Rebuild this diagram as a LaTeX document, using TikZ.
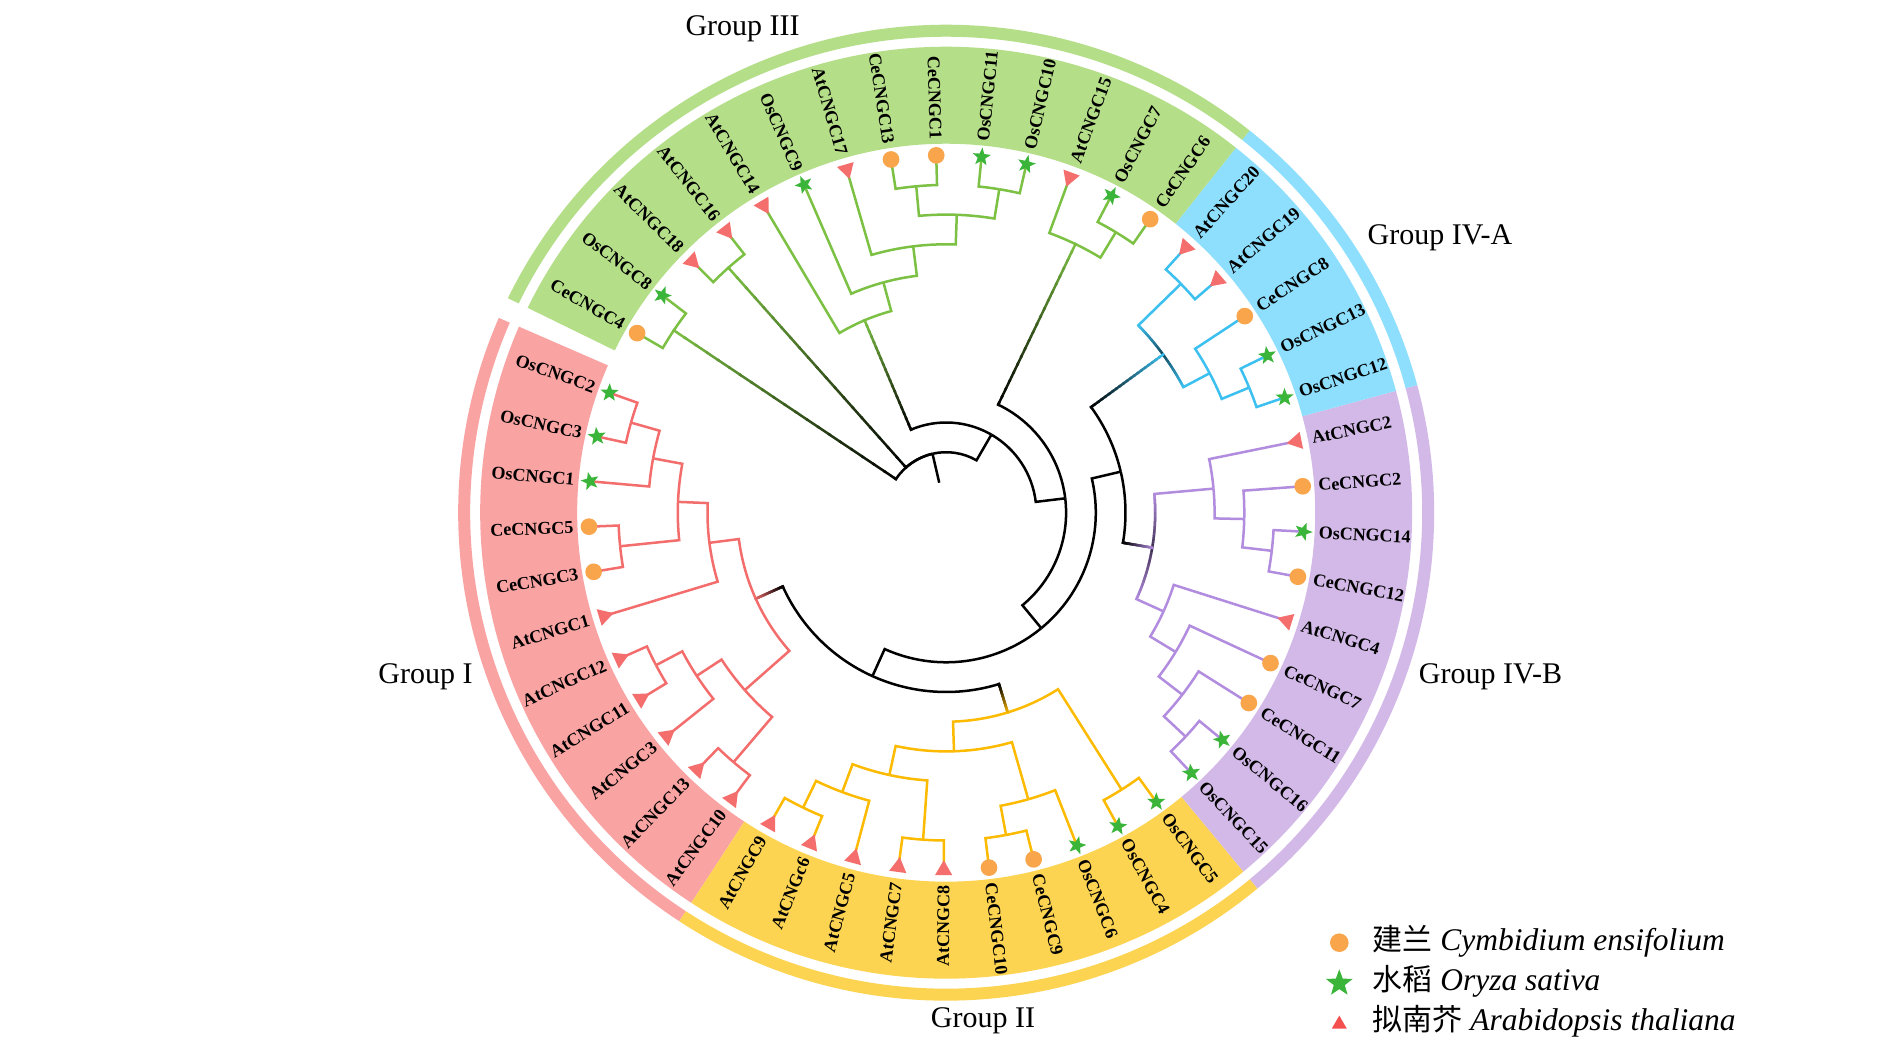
\documentclass[tikz,border=0pt]{standalone}
\usepackage{fontspec}
\setmainfont{Liberation Serif}
\newfontfamily\cjkfont{Noto Sans CJK SC}
\usetikzlibrary{shapes.geometric}
\definecolor{bandI}{RGB}{250,163,163}
\definecolor{bandII}{RGB}{253,212,82}
\definecolor{bandIII}{RGB}{181,222,136}
\definecolor{bandIVA}{RGB}{142,223,253}
\definecolor{bandIVB}{RGB}{211,185,232}
\definecolor{lineI}{RGB}{243,109,109}
\definecolor{lineII}{RGB}{252,186,0}
\definecolor{lineIII}{RGB}{124,193,67}
\definecolor{lineIVA}{RGB}{60,192,240}
\definecolor{lineIVB}{RGB}{178,140,222}
\definecolor{cecol}{RGB}{249,165,75}
\definecolor{oscol}{RGB}{58,181,58}
\definecolor{atcol}{RGB}{244,110,110}
\definecolor{atleg}{RGB}{245,80,80}

\newcommand\phyAng[1]{160.4+7.28*(#1)}
% edge: color, child idx, child level, parent idx, parent level
\newcommand\phyEdge[5]{%
 \pgfmathsetmacro\qAc{\phyAng{#2}}%
 \pgfmathsetmacro\qAp{\phyAng{#4}}%
 \pgfmathsetlengthmacro\qRc{(357.5-29.7*(#3))*1pt}%
 \pgfmathsetlengthmacro\qRp{(357.5-29.7*(#5))*1pt}%
 \draw[br,#1] (\qAc:\qRc) -- (\qAc:\qRp) arc[start angle=\qAc, end angle=\qAp, radius=\qRp];%
}
\newcommand\phyGrad[5]{%
 \pgfmathsetmacro\qAc{\phyAng{#2}}%
 \pgfmathsetmacro\qAp{\phyAng{#4}}%
 \pgfmathsetmacro\qRc{357.5-29.7*(#3)}%
 \pgfmathsetmacro\qRp{357.5-29.7*(#5)}%
 \pgfmathsetlengthmacro\qRx{(\qRp+3)*1pt}%
 \pgfmathsetlengthmacro\qRl{\qRp*1pt}%
 \draw[br,black] (\qAc:\qRx) -- (\qAc:\qRl) arc[start angle=\qAc, end angle=\qAp, radius=\qRl];%
 \foreach \k in {0,...,19}{%
  \pgfmathsetlengthmacro\qa{(\qRc+(\qRp-\qRc)*\k/20)*1pt}%
  \pgfmathsetlengthmacro\qb{(\qRc+(\qRp-\qRc)*(\k+1)/20)*1pt}%
  \pgfmathtruncatemacro\qp{100*(\k+0.5)/20}%
  \draw[line width=2.5pt,line cap=rect,black!\qp!#1] (\qAc:\qa) -- (\qAc:\qb);%
 }%
}
% arc gradient: color, node idx, level, end idx (dark at node, colour at end)
\newcommand\phyArcGrad[4]{%
 \pgfmathsetmacro\qAc{\phyAng{#2}}%
 \pgfmathsetmacro\qAe{\phyAng{#4}}%
 \pgfmathsetlengthmacro\qRl{(357.5-29.7*(#3))*1pt}%
 \foreach \k in {0,...,11}{%
  \pgfmathsetmacro\qa{\qAc+(\qAe-\qAc)*\k/12}%
  \pgfmathsetmacro\qb{\qAc+(\qAe-\qAc)*(\k+1)/12}%
  \pgfmathtruncatemacro\qp{65*(1-(\k+0.5)/12)}%
  \draw[line width=2.5pt,black!\qp!#1] (\qa:\qRl) arc[start angle=\qa, end angle=\qb, radius=\qRl];%
 }%
}
\newcommand\phyBand[5]{%
 \pgfmathsetmacro\qA{\phyAng{#2}}\pgfmathsetmacro\qB{\phyAng{#3}}%
 \fill[#1] (\qA:#4) arc[start angle=\qA, end angle=\qB, radius=#4] -- (\qB:#5) arc[start angle=\qB, end angle=\qA, radius=#5] -- cycle;%
}
\newcommand\phyLeaf[3]{%
 \pgfmathsetmacro\qA{\phyAng{#1}}%
 \pgfmathsetmacro\qC{cos(\qA)}%
 \node[#2] (m#1) at (\qA:357.5pt) {};%
 \ifdim\qC pt<0pt
  \node[lab, anchor=east, rotate=\qA+180] (n#1) at (\qA:373pt) {#3};%
 \else
  \node[lab, anchor=west, rotate=\qA] (n#1) at (\qA:373pt) {#3};%
 \fi
}

\tikzset{
 br/.style={line width=2.5pt, line join=miter, line cap=butt},
 lab/.style={font=\fontsize{18}{18}\selectfont\bfseries, inner sep=0pt},
 glab/.style={font=\fontsize{30}{30}\selectfont, inner sep=0pt},
 cmk/.style={circle, fill=cecol, minimum size=16.7pt, inner sep=0pt},
 smk/.style={star, star points=5, star point ratio=2.4, fill=oscol, minimum size=19pt, inner sep=0pt, rotate=\qA-90},
 tmk/.style={regular polygon, regular polygon sides=3, fill=atcol, minimum size=20pt, inner sep=0pt, rotate=\qA+90},
}

\begin{document}
\begin{tikzpicture}
\fill[white] (-946.2pt,-550.3pt) rectangle (943.8pt,512.7pt);
\useasboundingbox (-946.2pt,-550.3pt) rectangle (943.8pt,512.7pt);

% label bands
\phyBand{bandI}{-0.54}{10.5}{369pt}{466pt}
\phyBand{bandII}{10.5}{20.5}{369pt}{466pt}
\phyBand{bandIVB}{20.5}{29.5}{369pt}{466pt}
\phyBand{bandIVA}{29.5}{34.5}{369pt}{466pt}
\phyBand{bandIII}{34.5}{48.56}{369pt}{466pt}
% outer rings
\phyBand{bandI}{-0.54}{10.5}{476pt}{488pt}
\phyBand{bandII}{10.5}{20.5}{476pt}{488pt}
\phyBand{bandIVB}{20.5}{29.5}{476pt}{488pt}
\phyBand{bandIVA}{29.5}{34.5}{476pt}{488pt}
\phyBand{bandIII}{34.5}{48.56}{476pt}{488pt}

% ---- Group I
\phyEdge{lineI}{0}{0}{0.5}{1}
\phyEdge{lineI}{1}{0}{0.5}{1}
\phyEdge{lineI}{2}{0}{1.25}{2}
\phyEdge{lineI}{3}{0}{3.5}{1}
\phyEdge{lineI}{4}{0}{3.5}{1}
\phyEdge{lineI}{5}{0}{3.6875}{4}
\phyEdge{lineI}{6}{0}{6.5}{1}
\phyEdge{lineI}{7}{0}{6.5}{1}
\phyEdge{lineI}{8}{0}{7.25}{2}
\phyEdge{lineI}{9}{0}{9.5}{1}
\phyEdge{lineI}{10}{0}{9.5}{1}
\phyEdge{lineI}{0.5}{1}{1.25}{2}
\phyEdge{lineI}{1.25}{2}{2.375}{3}
\phyEdge{lineI}{3.5}{1}{2.375}{3}
\phyEdge{lineI}{2.375}{3}{3.6875}{4}
\phyEdge{lineI}{3.6875}{4}{6.03125}{5}
\phyEdge{lineI}{6.5}{1}{7.25}{2}
\phyEdge{lineI}{7.25}{2}{8.375}{3}
\phyEdge{lineI}{9.5}{1}{8.375}{3}
\phyEdge{lineI}{8.375}{3}{6.03125}{5}
% ---- Group II
\phyEdge{lineII}{11}{0}{11.5}{1}
\phyEdge{lineII}{12}{0}{11.5}{1}
\phyEdge{lineII}{13}{0}{12.25}{2}
\phyEdge{lineII}{14}{0}{14.5}{1}
\phyEdge{lineII}{15}{0}{14.5}{1}
\phyEdge{lineII}{16}{0}{16.5}{1}
\phyEdge{lineII}{17}{0}{16.5}{1}
\phyEdge{lineII}{18}{0}{17.25}{2}
\phyEdge{lineII}{19}{0}{19.5}{1}
\phyEdge{lineII}{20}{0}{19.5}{1}
\phyEdge{lineII}{11.5}{1}{12.25}{2}
\phyEdge{lineII}{12.25}{2}{13.375}{3}
\phyEdge{lineII}{14.5}{1}{13.375}{3}
\phyEdge{lineII}{13.375}{3}{15.3125}{4}
\phyEdge{lineII}{16.5}{1}{17.25}{2}
\phyEdge{lineII}{17.25}{2}{15.3125}{4}
\phyEdge{lineII}{15.3125}{4}{17.40625}{5}
\phyEdge{lineII}{19.5}{1}{17.40625}{5}
% ---- Group IV-B
\phyEdge{lineIVB}{21}{0}{21.5}{1}
\phyEdge{lineIVB}{22}{0}{21.5}{1}
\phyEdge{lineIVB}{23}{0}{22.25}{2}
\phyEdge{lineIVB}{24}{0}{23.125}{3}
\phyEdge{lineIVB}{25}{0}{24.0625}{4}
\phyEdge{lineIVB}{26}{0}{26.5}{1}
\phyEdge{lineIVB}{27}{0}{26.5}{1}
\phyEdge{lineIVB}{28}{0}{27.25}{2}
\phyEdge{lineIVB}{29}{0}{28.125}{3}
\phyEdge{lineIVB}{21.5}{1}{22.25}{2}
\phyEdge{lineIVB}{22.25}{2}{23.125}{3}
\phyEdge{lineIVB}{23.125}{3}{24.0625}{4}
\phyEdge{lineIVB}{24.0625}{4}{26.09375}{5}
\phyEdge{lineIVB}{26.5}{1}{27.25}{2}
\phyEdge{lineIVB}{27.25}{2}{28.125}{3}
\phyEdge{lineIVB}{28.125}{3}{26.09375}{5}
\phyArcGrad{lineIVB}{26.09375}{5}{24.0625}
\phyArcGrad{lineIVB}{26.09375}{5}{28.125}
% ---- Group IV-A
\phyEdge{lineIVA}{30}{0}{30.5}{1}
\phyEdge{lineIVA}{31}{0}{30.5}{1}
\phyEdge{lineIVA}{32}{0}{31.25}{2}
\phyEdge{lineIVA}{33}{0}{33.5}{1}
\phyEdge{lineIVA}{34}{0}{33.5}{1}
\phyEdge{lineIVA}{30.5}{1}{31.25}{2}
\phyEdge{lineIVA}{31.25}{2}{32.375}{3}
\phyEdge{lineIVA}{33.5}{1}{32.375}{3}
\phyArcGrad{lineIVA}{32.375}{3}{31.25}
\phyArcGrad{lineIVA}{32.375}{3}{33.5}
% ---- Group III
\phyEdge{lineIII}{35}{0}{35.5}{1}
\phyEdge{lineIII}{36}{0}{35.5}{1}
\phyEdge{lineIII}{37}{0}{36.25}{2}
\phyEdge{lineIII}{35.5}{1}{36.25}{2}
\phyEdge{lineIII}{38}{0}{38.5}{1}
\phyEdge{lineIII}{39}{0}{38.5}{1}
\phyEdge{lineIII}{40}{0}{40.5}{1}
\phyEdge{lineIII}{41}{0}{40.5}{1}
\phyEdge{lineIII}{38.5}{1}{39.5}{2}
\phyEdge{lineIII}{40.5}{1}{39.5}{2}
\phyEdge{lineIII}{39.5}{2}{40.75}{3}
\phyEdge{lineIII}{42}{0}{40.75}{3}
\phyEdge{lineIII}{40.75}{3}{41.875}{4}
\phyEdge{lineIII}{43}{0}{41.875}{4}
\phyEdge{lineIII}{41.875}{4}{42.9375}{5}
\phyEdge{lineIII}{44}{0}{42.9375}{5}
\phyEdge{lineIII}{45}{0}{45.5}{1}
\phyEdge{lineIII}{46}{0}{45.5}{1}
\phyEdge{lineIII}{47}{0}{47.5}{1}
\phyEdge{lineIII}{48}{0}{47.5}{1}

% ---- backbone (black) and gradient stems
\phyEdge{black}{11.71875}{6}{20.4765625}{7}
\phyEdge{black}{29.234375}{6}{20.4765625}{7}
\phyEdge{black}{20.4765625}{7}{28.36328}{8}
\phyEdge{black}{28.36328}{8}{35.65039}{9}
\phyEdge{black}{35.65039}{9}{41.5752}{10}
\phyGrad{lineI}{6.03125}{5}{11.71875}{6}
\phyGrad{lineII}{17.40625}{5}{11.71875}{6}
\phyGrad{lineIVB}{26.09375}{5}{29.234375}{6}
\phyGrad{lineIVA}{32.375}{3}{29.234375}{6}
\phyGrad{lineIII}{36.25}{2}{28.36328}{8}
\phyGrad{lineIII}{42.9375}{5}{35.65039}{9}
\phyGrad{lineIII}{45.5}{1}{41.5752}{10}
\phyGrad{lineIII}{47.5}{1}{41.5752}{10}
\pgfmathsetmacro\qA{\phyAng{41.5752}}
\draw[br] (\qA:60.5pt) -- (\qA:30.8pt);

% ---- leaves
\phyLeaf{0}{smk}{OsCNGC2}
\phyLeaf{1}{smk}{OsCNGC3}
\phyLeaf{2}{smk}{OsCNGC1}
\phyLeaf{3}{cmk}{CeCNGC5}
\phyLeaf{4}{cmk}{CeCNGC3}
\phyLeaf{5}{tmk}{AtCNGC1}
\phyLeaf{6}{tmk}{AtCNGC12}
\phyLeaf{7}{tmk}{AtCNGC11}
\phyLeaf{8}{tmk}{AtCNGC3}
\phyLeaf{9}{tmk}{AtCNGC13}
\phyLeaf{10}{tmk}{AtCNGC10}
\phyLeaf{11}{tmk}{AtCNGC9}
\phyLeaf{12}{tmk}{AtCNGc6}
\phyLeaf{13}{tmk}{AtCNGC5}
\phyLeaf{14}{tmk}{AtCNGC7}
\phyLeaf{15}{tmk}{AtCNGC8}
\phyLeaf{16}{cmk}{CeCNGC10}
\phyLeaf{17}{cmk}{CeCNGC9}
\phyLeaf{18}{smk}{OsCNGC6}
\phyLeaf{19}{smk}{OsCNGC4}
\phyLeaf{20}{smk}{OsCNGC5}
\phyLeaf{21}{smk}{OsCNGC15}
\phyLeaf{22}{smk}{OsCNGC16}
\phyLeaf{23}{cmk}{CeCNGC11}
\phyLeaf{24}{cmk}{CeCNGC7}
\phyLeaf{25}{tmk}{AtCNGC4}
\phyLeaf{26}{cmk}{CeCNGC12}
\phyLeaf{27}{smk}{OsCNGC14}
\phyLeaf{28}{cmk}{CeCNGC2}
\phyLeaf{29}{tmk}{AtCNGC2}
\phyLeaf{30}{smk}{OsCNGC12}
\phyLeaf{31}{smk}{OsCNGC13}
\phyLeaf{32}{cmk}{CeCNGC8}
\phyLeaf{33}{tmk}{AtCNGC19}
\phyLeaf{34}{tmk}{AtCNGC20}
\phyLeaf{35}{cmk}{CeCNGC6}
\phyLeaf{36}{smk}{OsCNGC7}
\phyLeaf{37}{tmk}{AtCNGC15}
\phyLeaf{38}{smk}{OsCNGC10}
\phyLeaf{39}{smk}{OsCNGC11}
\phyLeaf{40}{cmk}{CeCNGC1}
\phyLeaf{41}{cmk}{CeCNGC13}
\phyLeaf{42}{tmk}{AtCNGC17}
\phyLeaf{43}{smk}{OsCNGC9}
\phyLeaf{44}{tmk}{AtCNGC14}
\phyLeaf{45}{tmk}{AtCNGC16}
\phyLeaf{46}{tmk}{AtCNGC18}
\phyLeaf{47}{smk}{OsCNGC8}
\phyLeaf{48}{cmk}{CeCNGC4}

% ---- group labels
\node[glab] (g3) at (-203.6pt,483.7pt) {Group III};
\node[glab] (g4a) at (493.8pt,275.2pt) {Group IV-A};
\node[glab] (g4b) at (544.3pt,-164.1pt) {Group IV-B};
\node[glab] (g2) at (36.8pt,-508.3pt) {Group II};
\node[glab] (g1) at (-520.7pt,-164.1pt) {Group I};

% ---- legend
\node[circle, fill=cecol, minimum size=18.6pt, inner sep=0pt] (lg1) at (393.1pt,-430pt) {};
\node[star, star points=5, star point ratio=2.4, fill=oscol, minimum size=28pt, inner sep=0pt] (lg2) at (393.1pt,-470.6pt) {};
\node[regular polygon, regular polygon sides=3, fill=atleg, minimum size=17.4pt, inner sep=0pt] (lg3) at (393.1pt,-511.6pt) {};
\node[glab, anchor=base west] (lt1) at (426.5pt,-437.3pt) {{\cjkfont 建兰} {\fontsize{31.5}{31.5}\selectfont\itshape Cymbidium ensifolium}};
\node[glab, anchor=base west] (lt2) at (426.5pt,-477.3pt) {{\cjkfont 水稻} {\fontsize{31.5}{31.5}\selectfont\itshape Oryza sativa}};
\node[glab, anchor=base west] (lt3) at (426.5pt,-517.3pt) {{\cjkfont 拟南芥} {\fontsize{31.5}{31.5}\selectfont\itshape Arabidopsis thaliana}};
\end{tikzpicture}
\end{document}
